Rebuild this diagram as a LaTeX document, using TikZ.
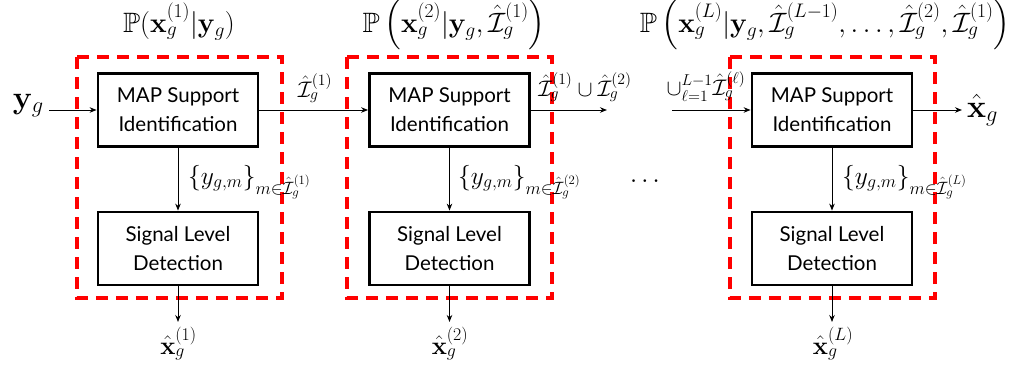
\RequirePackage{fix-cm}
\documentclass[tikz,border=0pt]{standalone}
\usepackage[no-math]{fontspec}
\usepackage{amsmath,amssymb}
\newfontfamily\boxfamily{Lato}
\usetikzlibrary{arrows.meta}
\newcommand{\Ih}{\hat{\mathcal{I}}}
\begin{document}
\begin{tikzpicture}[x=1pt,y=-1pt,
  blk/.style={draw, line width=2.8pt, minimum width=160pt, minimum height=73pt,
    inner sep=0pt, align=center, font=\boxfamily\fontsize{20.5}{29}\selectfont},
  grp/.style={draw=red, line width=3.2pt, dash pattern=on 12pt off 8pt},
  arr/.style={-{Stealth[length=7pt,width=5.5pt]}, line width=1pt},
  big/.style={inner sep=0pt, font=\fontsize{32}{35}\selectfont},
  top/.style={inner sep=0pt, anchor=base, font=\fontsize{28}{31}\selectfont},
  outl/.style={inner sep=0pt, anchor=base, font=\fontsize{25.5}{28}\selectfont},
  elbl/.style={inner sep=0pt, anchor=base, font=\fontsize{22.5}{26}\selectfont},
  sel/.style={inner sep=0pt, anchor=base west, font=\fontsize{25.5}{28}\selectfont}]
\useasboundingbox (0,0) rectangle (1018,375);

% processing stages
\node[blk] (map1) at (178,110) {MAP Support\\Identification};
\node[blk] (sig1) at (178,248.5) {Signal Level\\Detection};
\node[blk] (map2) at (449.5,110) {MAP Support\\Identification};
\node[blk] (sig2) at (449.5,248.5) {Signal Level\\Detection};
\node[blk] (map3) at (832,110) {MAP Support\\Identification};
\node[blk] (sig3) at (832,248.5) {Signal Level\\Detection};

% dashed stage groups
\draw[grp] (77,57) rectangle (282,298);
\draw[grp] (347,57) rectangle (552,298);
\draw[grp] (730,57) rectangle (935,298);

% stage posteriors
\node[top] (p1) at (179,32) {$\mathbb{P}(\mathbf{x}_g^{(1)}|\mathbf{y}_g)$};
\node[top] (p2) at (454,32) {$\mathbb{P}\left(\mathbf{x}_g^{(2)}|\mathbf{y}_g,\Ih_g^{(1)}\right)$};
\node[top] (p3) at (825,32) {$\mathbb{P}\left(\mathbf{x}_g^{(L)}|\mathbf{y}_g,\Ih_g^{(L-1)},\ldots,\Ih_g^{(2)},\Ih_g^{(1)}\right)$};

% input and chain of supports
\node[big,anchor=base east] (yg) at (44,108) {$\mathbf{y}_g$};
\coordinate (in1) at (49,110);
\draw[arr] (in1) -- (map1.west);
\draw[arr] (map1.east) -- (map2.west);
\node[elbl] (i1) at (315,97) {$\Ih_g^{(1)}$};
\coordinate (out2) at (607,110);
\draw[arr] (map2.east) -- (out2);
\node[elbl] (i12) at (585,96) {$\Ih_g^{(1)}\cup\Ih_g^{(2)}$};
\coordinate (in3) at (672,110);
\draw[arr] (in3) -- (map3.west);
\node[elbl] (iL) at (706,95) {$\cup_{\ell=1}^{L-1}\Ih_g^{(\ell)}$};
\coordinate (out3) at (962,110);
\draw[arr] (map3.east) -- (out3);
\node[big,anchor=base west] (xg) at (967,117) {$\hat{\mathbf{x}}_g$};

\node[outl] (dots) at (647,187) {$\cdots$};

% selected observations
\draw[arr] (map1.south) -- (sig1.north);
\node[sel] (s1) at (188,184) {$\{y_{g,m}\}_{m\in\Ih_g^{(1)}}$};
\draw[arr] (map2.south) -- (sig2.north);
\node[sel] (s2) at (458,184) {$\{y_{g,m}\}_{m\in\Ih_g^{(2)}}$};
\draw[arr] (map3.south) -- (sig3.north);
\node[sel] (s3) at (842,184) {$\{y_{g,m}\}_{m\in\Ih_g^{(L)}}$};

% stage outputs
\coordinate (o1) at (178,322);
\coordinate (o2) at (449.5,322);
\coordinate (o3) at (832,322);
\draw[arr] (sig1.south) -- (o1);
\draw[arr] (sig2.south) -- (o2);
\draw[arr] (sig3.south) -- (o3);
\node[outl] (x1) at (178.5,354) {$\hat{\mathbf{x}}_g^{(1)}$};
\node[outl] (x2) at (450,354) {$\hat{\mathbf{x}}_g^{(2)}$};
\node[outl] (x3) at (833,354) {$\hat{\mathbf{x}}_g^{(L)}$};
\end{tikzpicture}
\end{document}
